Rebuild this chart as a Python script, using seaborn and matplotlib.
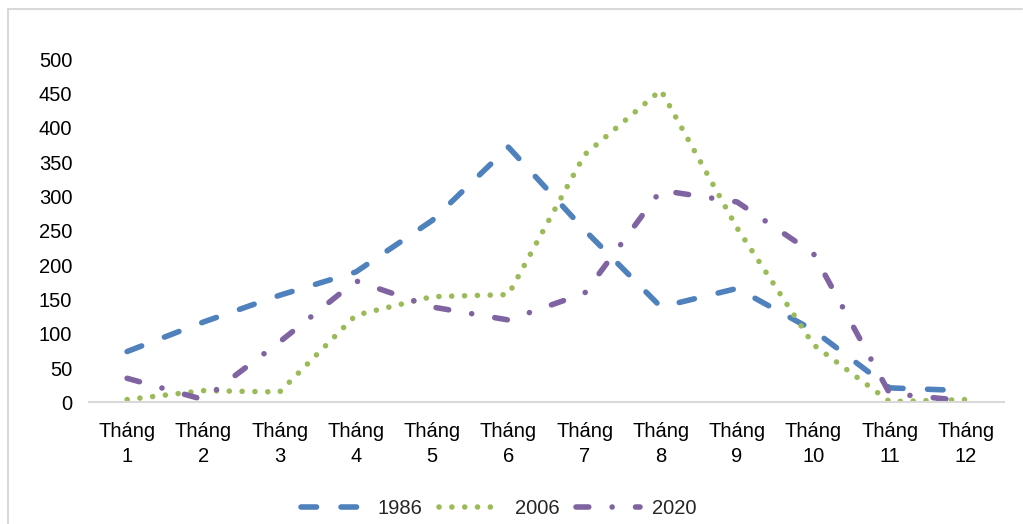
import numpy as np
import pandas as pd
import seaborn as sns
import matplotlib.pyplot as plt
from matplotlib.lines import Line2D

months = list(range(1, 13))
month_labels = [f"Tháng\n{m}" for m in months]
rain_1986 = [74, 117, 156, 190, 265, 372, 251, 139, 166, 105, 21, 17]
rain_2006 = [4, 17, 15, 127, 154, 157, 361, 455, 254, 84, 1, 4]
rain_2020 = [35, 4, 88, 177, 139, 120, 159, 309, 292, 217, 13, 2]
years = ["1986", "2006", "2020"]
colors = {"1986": "#4F81BD", "2006": "#9BBB59", "2020": "#8064A2"}

df = pd.DataFrame({
    "month": months * 3,
    "value": rain_1986 + rain_2006 + rain_2020,
    "year": [y for y in years for _ in months],
})

sns.set_style("white")
plt.rcParams["font.family"] = ["Liberation Sans", "DejaVu Sans"]

fig = plt.figure(figsize=(10.23, 5.24), dpi=100)
ax = fig.add_axes([89 / 1023, 1 - 402.3 / 524, (1004 - 89) / 1023, (402.3 - 59.3) / 524])

dashes = {
    "1986": (2.8, 4.4),
    "2006": (0.01, 2.3),
    "2020": (2.3, 4.2, 0.01, 4.2),
}
sns.lineplot(data=df, x="month", y="value", hue="year", style="year",
             palette=colors, dashes=dashes, linewidth=4, legend=False, ax=ax)
for ln in ax.lines:
    ln.set_dash_capstyle("round")

ax.set_xlim(0.5, 12.5)
ax.set_ylim(0, 500)
ax.set_yticks(np.arange(0, 501, 50))
ax.set_xticks(months)
ax.set_xticklabels(month_labels, linespacing=1.45)
ax.set_xlabel("")
ax.set_ylabel("")
ax.tick_params(axis="both", length=0, labelsize=14.5, colors="black")
ax.tick_params(axis="y", pad=12)
ax.tick_params(axis="x", pad=14)
for s in ["top", "right", "left"]:
    ax.spines[s].set_visible(False)
ax.spines["bottom"].set_color("#D9D9D9")
ax.spines["bottom"].set_linewidth(1.5)

fig.legend(ax.lines[:3], years, loc="center", bbox_to_anchor=(499 / 1023, 1 - 509 / 524),
           ncol=3, frameon=False, fontsize=14.5, handlelength=3.2,
           handletextpad=0.6, columnspacing=0.8)

# chart frame (left and top edges)
fig.add_artist(Line2D([8 / 1023, 8 / 1023], [0, 1 - 9 / 524], transform=fig.transFigure,
                      color="#D9D9D9", lw=1.5))
fig.add_artist(Line2D([8 / 1023, 1022 / 1023], [1 - 9 / 524, 1 - 9 / 524],
                      transform=fig.transFigure, color="#D9D9D9", lw=1.5))

fig.savefig("out.png", dpi=100)
